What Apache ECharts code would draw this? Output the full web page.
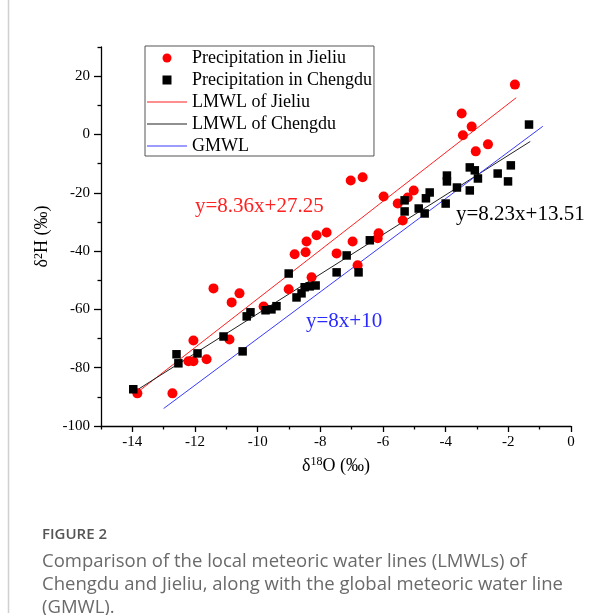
<!DOCTYPE html>
<html><head><meta charset="utf-8">
<script src="https://cdn.jsdelivr.net/npm/echarts@6/dist/echarts.min.js"></script>
<style>html,body{margin:0;padding:0;background:#fff}#c{width:616px;height:615px}</style>
</head><body><div id="c"></div><script>
// Precipitation in Jieliu (δ18O, δ2H)
const jieliuO = [-13.84,-12.72,-12.21,-12.05,-11.63,-12.05,-10.90,-11.41,-10.58,-10.83,-9.81,-9.01,-8.82,-8.47,-8.44,-8.12,-7.80,-8.28,-7.48,-7.03,-6.65,-5.98,-5.53,-5.21,-5.02,-5.37,-6.14,-6.17,-6.97,-6.81,-3.49,-3.17,-3.45,-2.65,-3.04,-1.79];
const jieliuH = [-88.8,-88.8,-77.8,-77.8,-77.1,-70.7,-70.3,-52.8,-54.5,-57.6,-59.0,-53.1,-41.1,-40.4,-36.7,-34.6,-33.6,-49.0,-40.8,-15.8,-14.7,-21.3,-23.7,-21.6,-19.2,-29.5,-33.9,-35.6,-36.7,-44.9,7.2,2.7,-0.3,-3.4,-5.8,17.1];
// Precipitation in Chengdu (δ18O, δ2H)
const chengduO = [-13.97,-12.59,-12.53,-11.92,-11.09,-10.48,-10.35,-10.23,-9.75,-9.56,-9.40,-8.76,-8.60,-8.50,-8.34,-8.15,-9.01,-7.48,-6.78,-7.16,-6.42,-5.31,-5.31,-4.86,-4.67,-4.63,-4.51,-4.00,-3.96,-3.96,-3.64,-3.23,-3.07,-2.97,-3.23,-2.34,-2.01,-1.92,-1.34];
const chengduH = [-87.4,-75.4,-78.5,-75.1,-69.3,-74.4,-62.4,-61.0,-60.3,-60.0,-58.9,-55.9,-54.5,-52.4,-52.1,-51.8,-47.7,-47.3,-47.3,-41.5,-36.3,-22.6,-26.4,-25.4,-27.1,-21.9,-19.9,-23.7,-14.1,-16.1,-18.2,-11.3,-12.3,-15.1,-19.2,-13.4,-16.1,-10.6,3.4];
// Water lines: endpoints [δ18O, δ2H]
const lmwlJieliu = [[-13.88,-88.8],[-1.75,12.6]];
const lmwlChengdu = [[-13.9,-88.0],[-1.3,-2.4]];
const gmwl = [[-13.0,-94.0],[-0.9,2.8]];
// Tick values
const xMajor = [-14,-12,-10,-8,-6,-4,-2,0];
const xMinor = [-15,-13,-11,-9,-7,-5,-3,-1];
const yMajor = [-100,-80,-60,-40,-20,0,20];
const yMinor = [-90,-70,-50,-30,-10,10,30];
const seriesNames = ['Precipitation in Jieliu','Precipitation in Chengdu','LMWL of Jieliu','LMWL of Chengdu','GMWL'];
const equations = ['y=8.36x+27.25','y=8.23x+13.51','y=8x+10'];

const zip = (a,b)=>a.map((v,i)=>[v,b[i]]);
const serif = 'Liberation Serif';
const chart = echarts.init(document.getElementById('c'), null, {renderer:'canvas'});
const axisBase = (extra)=>Object.assign({type:'value', splitLine:{show:false}}, extra);
const lineIcon = 'path://M0,0H40V1.1H0Z';
chart.setOption({
  backgroundColor:'#fff',
  animation:false,
  textStyle:{fontFamily:serif},
  grid:{left:101, right:45, top:47, bottom:189},
  xAxis:[
    axisBase({min:-15, max:0, position:'bottom',
      axisLine:{show:true, onZero:false, lineStyle:{color:'#000', width:1.3}},
      name:'{a|δ}{s|18}{a|O (‰)}', nameLocation:'middle', nameGap:30,
      nameTextStyle:{rich:{a:{fontFamily:serif,fontSize:18,color:'#000'}, s:{fontFamily:serif,fontSize:12,color:'#000',verticalAlign:'top',padding:[0,0,8,0]}}},
      axisTick:{show:true, customValues:xMajor, length:6, lineStyle:{color:'#000',width:1.3}},
      axisLabel:{customValues:xMajor, fontFamily:serif, fontSize:15, color:'#000', margin:9}}),
    axisBase({min:-15, max:0, position:'bottom',
      axisLine:{show:false, onZero:false},
      axisTick:{show:true, customValues:xMinor, length:3.5, lineStyle:{color:'#000',width:1.3}},
      axisLabel:{show:false}})
  ],
  yAxis:[
    axisBase({min:-100, max:30, position:'left',
      axisLine:{show:true, onZero:false, lineStyle:{color:'#000', width:1.3}},
      name:'{a|δ}{s|2}{a|H (‰)}', nameLocation:'middle', nameGap:42, nameRotate:90,
      nameTextStyle:{rich:{a:{fontFamily:serif,fontSize:18,color:'#000'}, s:{fontFamily:serif,fontSize:12,color:'#000',verticalAlign:'top',padding:[0,0,8,0]}}},
      axisTick:{show:true, customValues:yMajor, length:7, lineStyle:{color:'#000',width:1.3}},
      axisLabel:{customValues:yMajor, fontFamily:serif, fontSize:15, color:'#000', margin:11}}),
    axisBase({min:-100, max:30, position:'left',
      axisLine:{show:false, onZero:false},
      axisTick:{show:true, customValues:yMinor, length:3.5, lineStyle:{color:'#000',width:1.3}},
      axisLabel:{show:false}})
  ],
  legend:{
    orient:'vertical', left:145, top:46, padding:[3,2,1,2], itemGap:4,
    itemWidth:40, itemHeight:9, borderColor:'#555', borderWidth:1,
    textStyle:{fontFamily:serif, fontSize:18, color:'#000'},
    data:[
      {name:seriesNames[0], icon:'circle'},
      {name:seriesNames[1], icon:'path://M0,0H10V10H0Z', itemStyle:{color:'#000'}},
      {name:seriesNames[2], icon:lineIcon},
      {name:seriesNames[3], icon:lineIcon},
      {name:seriesNames[4], icon:lineIcon}
    ]
  },
  series:[
    {name:seriesNames[2], type:'line', data:lmwlJieliu, symbol:'none', lineStyle:{color:'#ff2020', width:1}, itemStyle:{color:'#ff2020'}, z:2},
    {name:seriesNames[3], type:'line', data:lmwlChengdu, symbol:'none', lineStyle:{color:'#222', width:1}, itemStyle:{color:'#222'}, z:2},
    {name:seriesNames[4], type:'line', data:gmwl, symbol:'none', lineStyle:{color:'#3a3aff', width:1}, itemStyle:{color:'#3a3aff'}, z:2},
    {name:seriesNames[0], type:'scatter', data:zip(jieliuO,jieliuH), symbol:'circle', symbolSize:10, itemStyle:{color:'#ff0000', opacity:1}, z:3},
    {name:seriesNames[1], type:'scatter', data:zip(chengduO,chengduH), symbol:'rect', symbolSize:8.5, itemStyle:{color:'#000', opacity:1}, z:4}
  ],
  graphic:[
    {type:'line', shape:{x1:8.5,y1:0,x2:8.5,y2:613}, style:{stroke:'#d0d0d0', lineWidth:1.5}},
    {type:'text', left:195, top:196, style:{text:equations[0], font:'21px "Liberation Serif"', fill:'#ff2020'}},
    {type:'text', left:456, top:204, style:{text:equations[1], font:'21px "Liberation Serif"', fill:'#000'}},
    {type:'text', left:306, top:311, style:{text:equations[2], font:'21px "Liberation Serif"', fill:'#2a2aff'}},
    {type:'text', left:42, top:527, style:{text:'FIGURE 2', font:'600 15px "Open Sans"', fill:'#555'}},
    {type:'text', left:42, top:550, style:{text:'Comparison of the local meteoric water lines (LMWLs) of\nChengdu and Jieliu, along with the global meteoric water line\n(GMWL).', font:'18.5px "Open Sans"', fill:'#6a6a6a', lineHeight:23}}
  ]
});
</script></body></html>
